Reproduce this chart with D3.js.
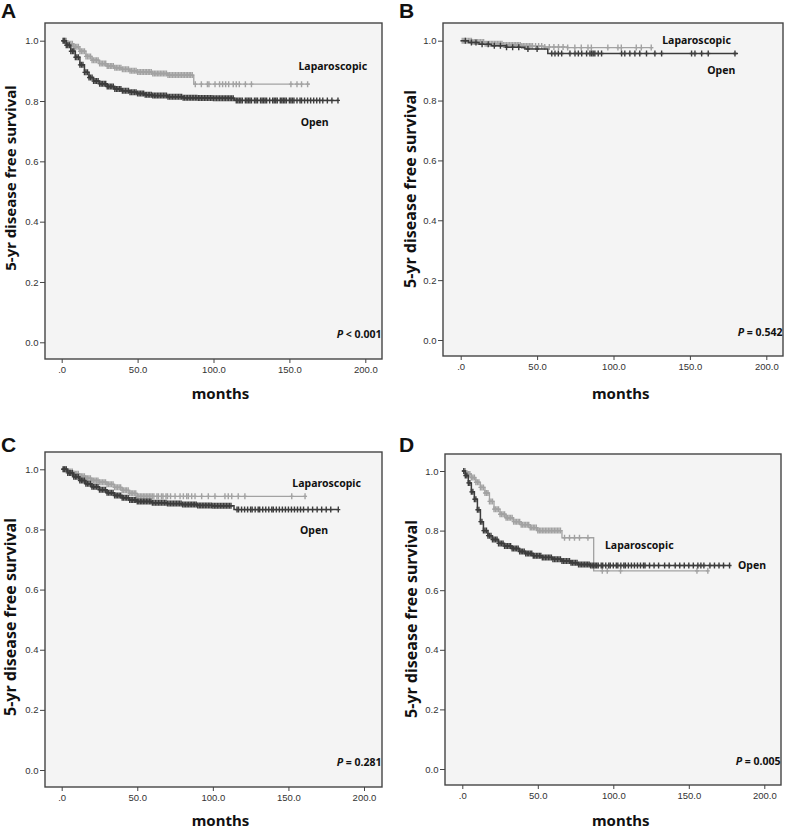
<!DOCTYPE html>
<html>
<head>
<meta charset="utf-8">
<script src="https://cdn.jsdelivr.net/npm/d3@7"></script>
<style>
html,body{margin:0;padding:0;background:#fff;}
svg{display:block;}
</style>
</head>
<body>
<svg id="chart" width="786" height="829"></svg>
<script>
// ---------------- DATA ----------------
const xTicks = [0, 50, 100, 150, 200];
const yTicks = [0, 0.2, 0.4, 0.6, 0.8, 1.0];
const groupNames = ["Laparoscopic", "Open"];
const panelLetters = ["A", "B", "C", "D"];
const pLabels = ["< 0.001", "= 0.542", "= 0.281", "= 0.005"];

// Panel A
const openA_t = [0, 3, 6, 9, 12, 15, 18, 21, 25, 30, 35, 40, 45, 50, 55, 60, 70, 80, 90, 100, 114];
const openA_s = [1.0, 0.985, 0.965, 0.945, 0.92, 0.895, 0.878, 0.866, 0.857, 0.848, 0.840, 0.834, 0.829, 0.825, 0.821, 0.818, 0.814, 0.811, 0.810, 0.809, 0.802];
const openA_end = 182;
const openA_cens = [1,2,3,4,5,6,7,8,9,10,11,12,13,14,15,16,17,18,19,20,21,22,23,24,25,26,27,28,29,30,31,32,33,34,35,36,37,38,39,40,41,42,43,44,45,46,47,48,49,50,51,52,53,54,55,56,57,58,59,60,61,62,63,64,65,66,67,68,69,70,71,72,73,74,75,76,77,78,79,80,81,82,83,84,85,86,87,88,89,90,91,92,93,94,95,96,97,98,99,100,101,102,103,104,105,106,107,108,109,110,111,112,113,115,116,117,118,119,121,122,123,124,125,127,128,129,131,132,133,134,135,137,139,140,141,142,144,145,146,147,148,150,151,152,153,155,157,158,160,162,164,166,168,170,172,175,178,182];
const lapA_t = [0, 4, 8, 12, 16, 20, 25, 30, 35, 40, 45, 50, 60, 70, 87];
const lapA_s = [1.0, 0.99, 0.98, 0.965, 0.948, 0.935, 0.924, 0.916, 0.91, 0.905, 0.90, 0.896, 0.891, 0.886, 0.856];
const lapA_end = 163.5;
const lapA_cens = [1,2,3,4,5,6,7,8,9,10,11,12,13,14,15,16,17,18,19,20,21,22,23,24,25,26,27,28,29,30,31,32,33,34,35,36,37,38,39,40,41,42,43,44,45,46,47,48,49,50,51,52,53,54,55,56,57,58,59,60,61,62,63,64,65,66,67,68,69,70,71,72,73,74,75,76,77,78,79,80,81,82,83,84,85,86,88,92,96,97,101,104,106,108,110,113,115,117,121,125,151,155,158,162];

// Panel B
const openB_t = [0, 5, 12, 20, 30, 42, 57];
const openB_s = [1.0, 0.994, 0.988, 0.983, 0.978, 0.972, 0.957];
const openB_end = 181.5;
const openB_cens = [3,7,10,14,18,22,26,30,34,38,44,50,59.6,61.7,63.9,66.1,71.5,74.8,77,79.2,82.4,84.6,85.7,86.7,87.8,90,92.2,105.3,107.4,110.7,114,117.2,121.6,127.1,131.5,151.1,153.3,157.7,162,179.5];
const lapB_t = [0, 8, 16, 28, 40, 55, 70];
const lapB_s = [1.0, 0.996, 0.99, 0.986, 0.982, 0.979, 0.977];
const lapB_end = 126;
const lapB_cens = [1,2,3,4,5,6,7,8,9,10,11,12,13,14,15,16,17,18,19,20,21,22,23,24,25,26,27,28,29,30,31,32,33,34,35,36,37,38,39,40,41,42,43,44,45,46,47,49,51,53,55,58,61,64,67,70,74.7,78.9,83.3,85.5,96.3,102.9,105.1,114.9,118.2,124.7];

// Panel C
const openC_t = [0, 4, 8, 12, 16, 20, 25, 30, 35, 40, 45, 50, 60, 70, 80, 90, 100, 114];
const openC_s = [1.0, 0.988, 0.975, 0.963, 0.952, 0.942, 0.932, 0.922, 0.913, 0.905, 0.898, 0.893, 0.889, 0.886, 0.883, 0.880, 0.879, 0.866];
const openC_end = 183;
const openC_cens = [1,2,3,4,5,6,7,8,9,10,11,12,13,14,15,16,17,18,19,20,21,22,23,24,25,26,27,28,29,30,31,32,33,34,35,36,37,38,39,40,41,42,43,44,45,46,47,48,49,50,51,52,53,54,55,56,57,58,59,60,61,62,63,64,65,66,67,68,69,70,71,72,73,74,75,76,77,78,79,80,81,82,83,84,85,86,87,88,89,90,91,92,93,94,95,96,97,98,99,100,101,102,103,104,105,106,107,108,109,110,111,112,116,117,119,121,123,125,126,128,130,131,133,135,137,139,140,142,144,146,148,150,152,154,156,158,160,163,166,169,172,175,178,183];
const lapC_t = [0, 4, 8, 12, 16, 20, 25, 30, 35, 40, 45, 50];
const lapC_s = [1.0, 0.993, 0.985, 0.977, 0.97, 0.963, 0.957, 0.95, 0.94, 0.93, 0.92, 0.91];
const lapC_end = 162;
const lapC_cens = [1,2,3,4,5,6,7,8,9,10,11,12,13,14,15,16,17,18,19,20,21,22,23,24,25,26,27,28,29,30,31,32,33,34,35,36,37,38,39,40,41,42,43,44,45,46,47,48,49,50,51,52,53,54,55,56,57,58,59,60,61,63,64,66,67,69,70,72,75,78.3,80.5,82.7,83.8,86,88.2,92.6,97,101.4,108,110.2,112.5,116.8,121.2,152.2,161];

// Panel D
const openD_t = [0, 2, 4, 6, 8, 10, 12, 14, 17, 20, 24, 28, 33, 38, 42, 47, 53, 60, 66, 72, 77, 85];
const openD_s = [1.0, 0.985, 0.96, 0.93, 0.905, 0.87, 0.83, 0.80, 0.783, 0.77, 0.757, 0.748, 0.740, 0.730, 0.723, 0.716, 0.710, 0.704, 0.698, 0.692, 0.686, 0.683];
const openD_end = 177;
const openD_cens = [1,2,3,4,5,6,7,8,9,10,11,12,13,14,15,16,17,18,19,20,21,22,23,24,25,26,27,28,29,30,31,32,33,34,35,36,37,38,39,40,41,42,43,44,45,46,47,48,49,50,51,52,53,54,55,56,57,58,59,60,61,62,63,64,65,66,67,68,69,70,71,72,73,74,75,76,77,78,79,80,81,82,83,84,85,86,87,88,89,90,92,93,95,97,98,100,102,103,105,107,108,110,112,114,116,118,120,121,124,127,130,134,137,141,144,147,150,153,156,158,160,164,167,170,173,177];
const lapD_t = [0, 3, 6, 9, 12, 15, 18, 21, 25, 29, 34, 39, 45, 50, 66, 87];
const lapD_s = [1.0, 0.99, 0.978, 0.962, 0.945, 0.926, 0.898, 0.872, 0.855, 0.843, 0.83, 0.82, 0.81, 0.800, 0.776, 0.665];
const lapD_end = 163;
const lapD_cens = [1,2,3,4,5,6,7,8,9,10,11,12,13,14,15,16,17,18,19,20,21,22,23,24,25,26,27,28,29,30,31,32,33,34,35,36,37,38,39,40,41,42,43,44,45,46,47,48,49,50,51,52,53,54,55,56,57,58,59,60,61,62,63,64,65,67.7,71,74.3,77.6,83.2,92.7,96,104.8,155.4,162.6];

// ---------------- LAYOUT ----------------
const layouts = [
  {fx:45, fy:23, fw:337, fh:336, x0:61.7, x200:365.3, y1:40.7, y0:342.3, letX:1, letY:18, ylX:10, ylY:178, ylSize:15, moX:220.5, moY:392.5,
   lap:[156, 0.917], open:[157.4, 0.731]},
  {fx:443, fy:23, fw:340, fh:333, x0:460.7, x200:766.3, y1:40.7, y0:340, letX:399, letY:18, ylX:410, ylY:189, ylSize:16, moX:620.7, moY:392.5,
   lap:[131.9, 1.002], open:[161.4, 0.902]},
  {fx:45, fy:452, fw:337, fh:335, x0:61.7, x200:364, y1:469.3, y0:770, letX:1, letY:451.7, ylX:10, ylY:617, ylSize:16, moX:220.5, moY:819.5,
   lap:[152.6, 0.955], open:[157.7, 0.798]},
  {fx:445, fy:454, fw:336, fh:331, x0:462.3, x200:764.3, y1:471, y0:769, letX:399, letY:451.7, ylX:411, ylY:619, ylSize:16, moX:620.7, moY:819.5,
   lap:[94.5, 0.753], open:[182.6, 0.683]}
];

const seriesData = [
  {open:{t:openA_t, s:openA_s, end:openA_end, c:openA_cens}, lap:{t:lapA_t, s:lapA_s, end:lapA_end, c:lapA_cens}},
  {open:{t:openB_t, s:openB_s, end:openB_end, c:openB_cens}, lap:{t:lapB_t, s:lapB_s, end:lapB_end, c:lapB_cens}},
  {open:{t:openC_t, s:openC_s, end:openC_end, c:openC_cens}, lap:{t:lapC_t, s:lapC_s, end:lapC_end, c:lapC_cens}},
  {open:{t:openD_t, s:openD_s, end:openD_end, c:openD_cens}, lap:{t:lapD_t, s:lapD_s, end:lapD_end, c:lapD_cens}}
];

const DARK = "#3c3c3c", LIGHT = "#a2a2a2";
const svg = d3.select("#chart");
const labelFont = "'Noto Sans', 'Open Sans', sans-serif";

function survAt(ser, t) {
  let s = ser.s[0];
  for (let i = 0; i < ser.t.length; i++) if (ser.t[i] <= t) s = ser.s[i];
  return s;
}

layouts.forEach((L, i) => {
  const d = seriesData[i];
  const g = svg.append("g");
  const x = d3.scaleLinear().domain([0, 200]).range([L.x0, L.x200]);
  const y = d3.scaleLinear().domain([0, 1]).range([L.y0, L.y1]);

  g.append("rect").attr("x", L.fx).attr("y", L.fy).attr("width", L.fw).attr("height", L.fh)
    .attr("fill", "#f4f4f4").attr("stroke", "#454545").attr("stroke-width", 1.4);

  const ya = d3.axisLeft(y).tickValues(yTicks).tickFormat(d3.format(".1f")).tickSize(5).tickPadding(1.5);
  const yg = g.append("g").attr("transform", `translate(${L.fx},0)`).call(ya);
  const xa = d3.axisBottom(x).tickValues(xTicks).tickFormat(v => v === 0 ? ".0" : v.toFixed(1)).tickSize(4).tickPadding(3.5);
  const xg = g.append("g").attr("transform", `translate(0,${L.fy + L.fh})`).call(xa);
  [yg, xg].forEach(a => {
    a.select(".domain").remove();
    a.selectAll("line").attr("stroke", "#444").attr("stroke-width", 1);
    a.selectAll("text").attr("fill", "#333").style("font-family", "'Liberation Sans', Arial, sans-serif").style("font-size", "9.5px");
  });

  const line = d3.line().x(p => x(p[0])).y(p => y(p[1])).curve(d3.curveStepAfter);
  [["lap", LIGHT, 1.3], ["open", DARK, 1.5]].forEach(([k, col, sw]) => {
    const ser = d[k];
    const pts = ser.t.map((t, j) => [t, ser.s[j]]);
    pts.push([ser.end, ser.s[ser.s.length - 1]]);
    g.append("path").attr("d", line(pts)).attr("fill", "none").attr("stroke", col).attr("stroke-width", sw);
    g.append("g").selectAll("path").data(ser.c).join("path")
      .attr("d", t => { const px = x(t), py = y(survAt(ser, t)); return `M${px},${py - 3}v6M${px - 2},${py}h4`; })
      .attr("stroke", col).attr("stroke-width", 1.4).attr("fill", "none");
  });

  g.append("text").attr("x", x(L.lap[0])).attr("y", y(L.lap[1])).attr("dominant-baseline", "central")
    .style("font-family", labelFont).style("font-weight", "bold").style("font-size", "10.5px").attr("fill", "#111").text(groupNames[0]);
  g.append("text").attr("x", x(L.open[0])).attr("y", y(L.open[1])).attr("dominant-baseline", "central")
    .style("font-family", labelFont).style("font-weight", "bold").style("font-size", "10.5px").attr("fill", "#111").text(groupNames[1]);

  const pt = g.append("text").attr("x", L.fx + L.fw - 0.5).attr("y", y(0.028)).attr("text-anchor", "end")
    .attr("dominant-baseline", "central").style("font-family", labelFont).style("font-weight", "bold")
    .style("font-size", "10.5px").attr("fill", "#111");
  pt.append("tspan").style("font-style", "italic").text("P");
  pt.append("tspan").text(" " + pLabels[i]);

  g.append("text").attr("transform", `translate(${L.ylX},${L.ylY}) rotate(-90)`).attr("text-anchor", "middle")
    .attr("dominant-baseline", "central").style("font-family", labelFont).style("font-weight", "bold")
    .style("font-size", L.ylSize + "px").attr("fill", "#111").text("5-yr disease free survival");
  g.append("text").attr("x", L.moX).attr("y", L.moY).attr("text-anchor", "middle").attr("dominant-baseline", "central")
    .style("font-family", labelFont).style("font-weight", "bold").style("font-size", "15px").attr("fill", "#111").text("months");

  g.append("text").attr("x", L.letX).attr("y", L.letY)
    .style("font-family", "'Liberation Sans', Arial, sans-serif").style("font-weight", "bold").style("font-size", "21px")
    .attr("fill", "#111").text(panelLetters[i]);
});
</script>
</body>
</html>
